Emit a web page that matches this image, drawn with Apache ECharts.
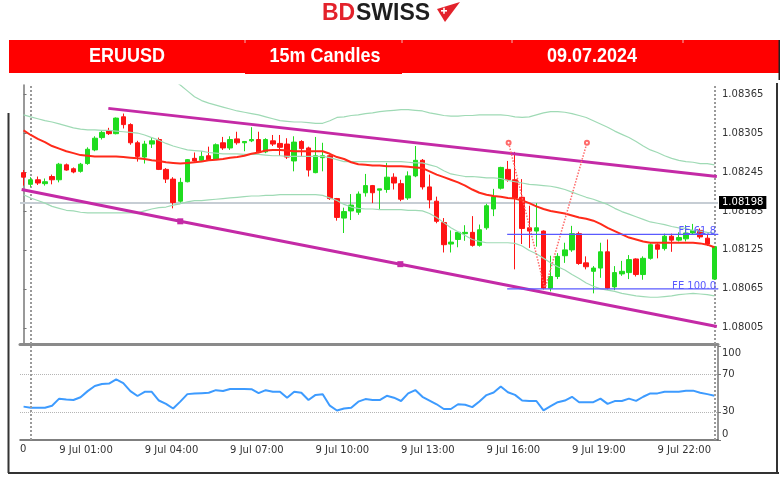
<!DOCTYPE html>
<html>
<head>
<meta charset="utf-8">
<title>ERUUSD 15m Candles</title>
<script src="https://cdn.jsdelivr.net/npm/echarts@6/dist/echarts.min.js"></script>
<style>
  html, body { margin: 0; padding: 0; background: #fff; }
  #chart { width: 780px; height: 478px; }
</style>
</head>
<body>
<div id="chart"></div>
<script>
// 15m candles, 8 Jul 23:45 -> 10 Jul 00:00
var times = [];
function pad(n) { return (n < 10 ? "0" : "") + n; }
times.push("8 Jul 23:45");
for (var h = 0; h < 24; h++) {
  for (var m = 0; m < 60; m += 15) times.push("9 Jul " + pad(h) + ":" + pad(m));
}
times.push("10 Jul 00:00");

var opens = [
  1.08244,1.08226,1.08233,1.08227,1.08238,1.08233,1.08256,1.08250,1.08246,1.08258,
  1.08279,1.08298,1.08308,1.08304,1.08330,1.08318,1.08290,1.08268,1.08288,1.08295,
  1.08249,1.08234,1.08200,1.08230,1.08266,1.08263,1.08270,1.08265,1.08290,1.08282,
  1.08296,1.08290,1.08293,1.08295,1.08276,1.08293,1.08289,1.08288,1.08262,1.08292,
  1.08282,1.08244,1.08267,1.08270,1.08204,1.08174,1.08185,1.08183,1.08213,1.08224,
  1.08217,1.08218,1.08237,1.08227,1.08205,1.08239,1.08263,1.08222,1.08200,1.08167,
  1.08134,1.08141,1.08150,1.08152,1.08132,1.08159,1.08188,1.08220,1.08249,1.08233,
  1.08206,1.08159,1.08154,1.08154,1.08066,1.08084,1.08116,1.08125,1.08150,1.08105,
  1.08092,1.08097,1.08122,1.08068,1.08088,1.08090,1.08111,1.08087,1.08112,1.08133,
  1.08127,1.08146,1.08140,1.08142,1.08151,1.08155,1.08143,1.08080
];
var closes = [
  1.08237,1.08233,1.08228,1.08230,1.08233,1.08257,1.08248,1.08245,1.08257,1.08280,
  1.08297,1.08306,1.08304,1.08328,1.08318,1.08290,1.08269,1.08288,1.08293,1.08249,
  1.08234,1.08198,1.08229,1.08264,1.08262,1.08269,1.08264,1.08287,1.08282,1.08295,
  1.08290,1.08292,1.08295,1.08276,1.08295,1.08288,1.08283,1.08268,1.08291,1.08281,
  1.08248,1.08270,1.08270,1.08204,1.08175,1.08184,1.08194,1.08211,1.08224,1.08213,
  1.08219,1.08237,1.08228,1.08203,1.08239,1.08263,1.08222,1.08202,1.08169,1.08133,
  1.08137,1.08152,1.08152,1.08132,1.08156,1.08193,1.08207,1.08252,1.08233,1.08205,
  1.08158,1.08154,1.08159,1.08066,1.08084,1.08115,1.08125,1.08150,1.08104,1.08099,
  1.08097,1.08122,1.08066,1.08090,1.08092,1.08110,1.08087,1.08112,1.08133,1.08126,
  1.08146,1.08140,1.08144,1.08151,1.08155,1.08145,1.08134,1.08130
];
var lows = [
  1.08224,1.08222,1.08225,1.08224,1.08226,1.08229,1.08247,1.08243,1.08244,1.08256,
  1.08277,1.08295,1.08302,1.08303,1.08312,1.08287,1.08261,1.08258,1.08282,1.08248,
  1.08228,1.08189,1.08198,1.08229,1.08261,1.08261,1.08263,1.08264,1.08279,1.08279,
  1.08287,1.08277,1.08291,1.08274,1.08274,1.08285,1.08270,1.08265,1.08246,1.08269,
  1.08238,1.08243,1.08246,1.08202,1.08170,1.08151,1.08171,1.08179,1.08207,1.08197,
  1.08188,1.08213,1.08218,1.08200,1.08202,1.08237,1.08218,1.08189,1.08166,1.08121,
  1.08121,1.08129,1.08139,1.08130,1.08130,1.08156,1.08177,1.08218,1.08230,1.08095,
  1.08134,1.08128,1.08130,1.08064,1.08061,1.08080,1.08105,1.08122,1.08102,1.08095,
  1.08058,1.08082,1.08064,1.08063,1.08085,1.08080,1.08084,1.08079,1.08110,1.08112,
  1.08124,1.08122,1.08138,1.08138,1.08149,1.08142,1.08131,1.08079
];
var highs = [
  1.08248,1.08237,1.08238,1.08235,1.08241,1.08259,1.08258,1.08252,1.08259,1.08283,
  1.08300,1.08308,1.08313,1.08329,1.08335,1.08320,1.08293,1.08293,1.08298,1.08298,
  1.08251,1.08237,1.08236,1.08265,1.08275,1.08277,1.08284,1.08289,1.08299,1.08300,
  1.08307,1.08292,1.08314,1.08307,1.08297,1.08302,1.08302,1.08297,1.08300,1.08294,
  1.08284,1.08299,1.08290,1.08272,1.08205,1.08190,1.08211,1.08215,1.08242,1.08225,
  1.08219,1.08259,1.08243,1.08233,1.08246,1.08285,1.08265,1.08241,1.08207,1.08174,
  1.08155,1.08153,1.08163,1.08177,1.08164,1.08196,1.08219,1.08253,1.08262,1.08276,
  1.08234,1.08193,1.08197,1.08155,1.08116,1.08120,1.08136,1.08162,1.08153,1.08115,
  1.08100,1.08136,1.08141,1.08100,1.08108,1.08117,1.08112,1.08115,1.08135,1.08135,
  1.08150,1.08150,1.08152,1.08163,1.08165,1.08158,1.08148,1.08131
];

// moving average (red) and the three green envelope lines
var maLine = [
  1.08309,1.08302,1.08296,1.08291,1.08285,1.08281,1.08277,1.08274,1.08271,1.08270,
  1.08269,1.08269,1.08269,1.08269,1.08268,1.08267,1.08266,1.08265,1.08263,1.08262,
  1.08260,1.08259,1.08258,1.08259,1.08260,1.08261,1.08263,1.08264,1.08265,1.08267,
  1.08268,1.08270,1.08273,1.08275,1.08278,1.08279,1.08279,1.08278,1.08277,1.08277,
  1.08277,1.08277,1.08277,1.08273,1.08268,1.08265,1.08260,1.08257,1.08256,1.08255,
  1.08255,1.08254,1.08254,1.08254,1.08253,1.08252,1.08251,1.08246,1.08241,1.08237,
  1.08233,1.08229,1.08224,1.08218,1.08213,1.08210,1.08208,1.08207,1.08205,1.08204,
  1.08201,1.08197,1.08192,1.08188,1.08185,1.08183,1.08181,1.08178,1.08175,1.08173,
  1.08170,1.08165,1.08159,1.08154,1.08149,1.08144,1.08141,1.08138,1.08136,1.08136,
  1.08136,1.08136,1.08136,1.08136,1.08136,1.08135,1.08133,1.08129
];
var bandOuter = [
  1.08421,1.08422,1.08424,1.08426,1.08426,1.08427,1.08427,1.08427,1.08427,1.08427,
  1.08427,1.08427,1.08426,1.08426,1.08424,1.08422,1.08421,1.08416,1.08410,1.08402,
  1.08395,1.08387,1.08379,1.08370,1.08361,1.08355,1.08351,1.08348,1.08345,1.08342,
  1.08339,1.08337,1.08335,1.08333,1.08330,1.08327,1.08324,1.08323,1.08322,1.08322,
  1.08321,1.08320,1.08320,1.08324,1.08329,1.08330,1.08332,1.08333,1.08335,1.08336,
  1.08338,1.08339,1.08340,1.08341,1.08341,1.08340,1.08339,1.08336,1.08334,1.08332,
  1.08331,1.08331,1.08332,1.08332,1.08333,1.08333,1.08333,1.08333,1.08332,1.08330,
  1.08329,1.08330,1.08333,1.08336,1.08338,1.08338,1.08337,1.08335,1.08332,1.08329,
  1.08324,1.08319,1.08314,1.08308,1.08303,1.08298,1.08292,1.08285,1.08279,1.08275,
  1.08270,1.08266,1.08263,1.08261,1.08260,1.08258,1.08258,1.08256
];
var bandUpper = [
  1.08333,1.08330,1.08327,1.08324,1.08322,1.08319,1.08316,1.08313,1.08311,1.08310,
  1.08310,1.08309,1.08309,1.08308,1.08307,1.08306,1.08305,1.08302,1.08298,1.08294,
  1.08289,1.08285,1.08282,1.08279,1.08278,1.08277,1.08275,1.08274,1.08273,1.08273,
  1.08273,1.08272,1.08272,1.08272,1.08271,1.08270,1.08270,1.08269,1.08269,1.08269,
  1.08269,1.08269,1.08269,1.08267,1.08264,1.08261,1.08261,1.08261,1.08261,1.08261,
  1.08261,1.08261,1.08261,1.08261,1.08260,1.08259,1.08259,1.08256,1.08253,1.08247,
  1.08242,1.08240,1.08238,1.08238,1.08237,1.08236,1.08236,1.08235,1.08232,1.08230,
  1.08228,1.08226,1.08225,1.08224,1.08223,1.08221,1.08218,1.08214,1.08210,1.08206,
  1.08203,1.08199,1.08195,1.08189,1.08184,1.08180,1.08176,1.08172,1.08168,1.08166,
  1.08164,1.08161,1.08159,1.08158,1.08155,1.08154,1.08152,1.08151
];
var bandLower = [
  1.08210,1.08205,1.08201,1.08197,1.08192,1.08189,1.08186,1.08185,1.08183,1.08182,
  1.08182,1.08182,1.08182,1.08182,1.08182,1.08182,1.08182,1.08185,1.08188,1.08190,
  1.08191,1.08194,1.08196,1.08199,1.08201,1.08201,1.08202,1.08203,1.08204,1.08205,
  1.08206,1.08207,1.08208,1.08208,1.08209,1.08209,1.08210,1.08210,1.08210,1.08210,
  1.08210,1.08210,1.08209,1.08205,1.08201,1.08195,1.08191,1.08189,1.08188,1.08188,
  1.08187,1.08187,1.08187,1.08187,1.08186,1.08186,1.08185,1.08181,1.08175,1.08167,
  1.08159,1.08153,1.08147,1.08141,1.08138,1.08136,1.08136,1.08136,1.08136,1.08135,
  1.08131,1.08124,1.08119,1.08112,1.08105,1.08099,1.08094,1.08087,1.08081,1.08074,
  1.08069,1.08065,1.08063,1.08061,1.08058,1.08056,1.08054,1.08053,1.08052,1.08052,
  1.08053,1.08054,1.08056,1.08057,1.08058,1.08057,1.08056,1.08054
];

var rsi = [
  35.5,34.4,34.4,34.4,36.5,44,43,42.5,45.5,52,
  57.5,59.6,60,64.5,60.5,52,46.8,51.2,51.2,42,
  38.5,33.5,40.8,48.8,49.4,49.8,50.2,53,52.2,54.3,
  54.3,54.3,54,49.8,53,51.4,51.4,45,51.4,50.2,
  42.5,48,48.6,36.5,31.4,33.5,34.4,40.8,43.5,42.5,
  42.5,47,45,41.5,49.6,53.1,46,42,38,33,
  33,38,37.5,35,41,47.8,50.5,57,50.8,48,
  42,41.5,41.5,31.5,36,40.2,42,46,40.2,40.1,
  40.2,44,38.4,41.4,41.5,44,41.6,46,49.6,49.6,
  51.4,51.4,51.4,52.3,52.5,50.3,48.8,47
];

// drawn objects: [bar index, price]
var channelTop = [[11.9, 1.08343], [97.34, 1.08238]];
var channelBottom = [[-0.27, 1.08218], [22, 1.08169], [52.9, 1.08103], [97.34, 1.08007]];
var feLegs = [[68.1, 1.08290], [73.2, 1.08065], [79.1, 1.08290]];
var feLevels = [["FE 61.8", 1.08149], ["FE 100.0", 1.08065]];
var feStart = 67.9, feEnd = 97.5;
var lastPrice = 1.08198;

var priceTicks = [1.08005, 1.08065, 1.08125, 1.08185, 1.08245, 1.08305, 1.08365];
var rsiTicks = [0, 30, 70, 100];
var rsiLevels = [30, 70];
var header = ["ERUUSD", "15m Candles", "09.07.2024"];

var candles = [];
for (var i = 0; i < opens.length; i++) {
  candles.push([opens[i], closes[i], lows[i], highs[i]]);
}

var labelFont = "DejaVu Sans";
function everyThreeHours(idx) { return idx >= 5 && (idx - 5) % 12 === 0; }
var dotted = { type: "dotted", color: "#9a9a9a", width: 2 };

var feSeries = feLevels.map(function (lv) {
  return {
    type: "line", xAxisIndex: 1, yAxisIndex: 0, z: 4,
    symbol: "none", showSymbol: true, silent: true,
    lineStyle: { color: "#5a5aff", width: 1.2 },
    itemStyle: { color: "#5a5aff" },
    data: [
      [feStart, lv[1]],
      { value: [feEnd, lv[1]], symbol: "circle", symbolSize: 1,
        label: { show: true, formatter: lv[0], position: "top", align: "right",
                 distance: 0, offset: [-2, 3], color: "#5a5aff", fontSize: 10, fontFamily: labelFont } }
    ]
  };
});

var chart = echarts.init(document.getElementById("chart"));
chart.setOption({
  animation: false,
  backgroundColor: "#ffffff",
  grid: [
    { left: 20, right: 62, top: 85, height: 259 },
    { left: 20, right: 62, top: 346, height: 94 }
  ],
  xAxis: [
    { type: "category", gridIndex: 0, data: times, boundaryGap: true,
      axisLine: { lineStyle: { color: "#8a8a8a", width: 3 } },
      axisTick: { show: false }, axisLabel: { show: false }, splitLine: { show: false } },
    { type: "value", gridIndex: 0, min: -0.5, max: 97.5, show: false },
    { type: "category", gridIndex: 1, data: times, boundaryGap: true,
      axisLine: { lineStyle: { color: "#555", width: 1.5 } },
      axisTick: { alignWithLabel: true, interval: everyThreeHours, length: 3, lineStyle: { color: "#555" } },
      axisLabel: { interval: everyThreeHours, align: "left", margin: 5,
                   color: "#333", fontSize: 10, fontFamily: labelFont },
      splitLine: { show: false } }
  ],
  yAxis: [
    { type: "value", gridIndex: 0, position: "right", min: 1.07980, max: 1.08379,
      splitLine: { show: false },
      axisLine: { show: true, lineStyle: { color: "#777", width: 1.5 } },
      axisTick: { show: true, customValues: priceTicks, length: 3, lineStyle: { color: "#777" } },
      axisLabel: { customValues: priceTicks, margin: 4, color: "#333", fontSize: 10, fontFamily: labelFont,
                   formatter: function (v) { return v.toFixed(5); } } },
    { type: "value", gridIndex: 1, position: "right", min: 0, max: 100,
      splitLine: { show: false },
      axisLine: { show: true, lineStyle: { color: "#777", width: 1.5 } },
      axisTick: { show: true, customValues: rsiTicks, length: 3, lineStyle: { color: "#777" } },
      axisLabel: { customValues: rsiTicks, margin: 4, color: "#333", fontSize: 10, fontFamily: labelFont,
                   formatter: function (v) {
                     if (v === 100) return "{t|100}";
                     if (v === 0) return "{b|0}";
                     return String(v);
                   },
                   rich: {
                     t: { padding: [14, 0, 0, 0], color: "#333", fontSize: 10, fontFamily: labelFont },
                     b: { padding: [0, 0, 12, 0], color: "#333", fontSize: 10, fontFamily: labelFont }
                   } } }
  ],
  series: [
    { type: "candlestick", xAxisIndex: 0, yAxisIndex: 0, z: 2, barWidth: 5,
      data: candles,
      itemStyle: { color: "#1fdc1f", color0: "#ff1414", borderColor: "#1fdc1f", borderColor0: "#ff1414", borderWidth: 1 },
      markLine: {
        silent: true, symbol: "none", precision: 6, label: { show: false }, z: 1,
        data: [
          { xAxis: times[1], lineStyle: dotted },
          { xAxis: times[97], lineStyle: dotted },
          { yAxis: lastPrice, lineStyle: { type: "solid", color: "#c6cdd4", width: 2 },
            label: { show: true, position: "end", distance: 1, formatter: lastPrice.toFixed(5),
                     backgroundColor: "#000", color: "#fff", padding: [2, 3, 1, 3],
                     fontSize: 10, fontFamily: labelFont } }
        ]
      } },
    { type: "line", xAxisIndex: 0, yAxisIndex: 0, z: 3, data: bandOuter, symbol: "none", silent: true,
      lineStyle: { color: "#9fdab5", width: 1.2 } },
    { type: "line", xAxisIndex: 0, yAxisIndex: 0, z: 3, data: bandUpper, symbol: "none", silent: true,
      lineStyle: { color: "#9fdab5", width: 1.2 } },
    { type: "line", xAxisIndex: 0, yAxisIndex: 0, z: 3, data: bandLower, symbol: "none", silent: true,
      lineStyle: { color: "#9fdab5", width: 1.2 } },
    { type: "line", xAxisIndex: 0, yAxisIndex: 0, z: 3, data: maLine, symbol: "none", silent: true,
      lineStyle: { color: "#ff2a1a", width: 2 } },
    { type: "line", xAxisIndex: 1, yAxisIndex: 0, z: 4, data: channelTop, symbol: "none", silent: true,
      lineStyle: { color: "#c42aa6", width: 3 } },
    { type: "line", xAxisIndex: 1, yAxisIndex: 0, z: 4, silent: true,
      symbol: "none", showSymbol: true,
      data: channelBottom.map(function (p, k) {
        if (k === 0 || k === channelBottom.length - 1) return p;
        return { value: p, symbol: "rect", symbolSize: 6 };
      }),
      itemStyle: { color: "#c42aa6" },
      lineStyle: { color: "#c42aa6", width: 3 } },
    { type: "line", xAxisIndex: 1, yAxisIndex: 0, z: 4, silent: true,
      symbol: "none", showSymbol: true,
      data: feLegs.map(function (p, k) {
        if (k === 1) return p;
        return { value: p, symbol: "emptyCircle", symbolSize: 4 };
      }),
      itemStyle: { color: "#ff6a6a" },
      lineStyle: { color: "#ff6a6a", width: 1.5, type: "dotted" } }
  ].concat(feSeries).concat([
    { type: "line", xAxisIndex: 2, yAxisIndex: 1, data: rsi, symbol: "none", silent: true,
      lineStyle: { color: "#3d9bff", width: 2 },
      markLine: {
        silent: true, symbol: "none", label: { show: false },
        data: [
          { yAxis: rsiLevels[0], lineStyle: { type: "dotted", color: "#b5b5b5", width: 1 } },
          { yAxis: rsiLevels[1], lineStyle: { type: "dotted", color: "#b5b5b5", width: 1 } },
          { xAxis: times[1], lineStyle: dotted },
          { xAxis: times[97], lineStyle: dotted }
        ]
      } }
  ]),
  graphic: [
    // logo
    { type: "text", x: 322, y: 14, style: { text: "BD", fill: "#e3222b", font: "bold 23px 'Liberation Sans', Arial",
      align: "left", textAlign: "left", verticalAlign: "middle", textVerticalAlign: "middle" } },
    { type: "text", x: 356, y: 14, style: { text: "SWISS", fill: "#1e1e1e", font: "bold 23px 'Liberation Sans', Arial",
      align: "left", textAlign: "left", verticalAlign: "middle", textVerticalAlign: "middle" } },
    { type: "polygon", shape: { points: [[437, 9], [460, 2], [445, 22]] }, style: { fill: "#e3222b" } },
    { type: "rect", shape: { x: 441, y: 10, width: 6, height: 1.6 }, style: { fill: "#fff" } },
    { type: "rect", shape: { x: 443.2, y: 7.8, width: 1.6, height: 6 }, style: { fill: "#fff" } },
    // header banner
    { type: "rect", shape: { x: 9, y: 40, width: 770, height: 33 }, style: { fill: "#ff0000" } },
    { type: "rect", shape: { x: 245, y: 40, width: 157, height: 34 }, style: { fill: "#ff0000" } },
    { type: "line", shape: { x1: 245, y1: 40, x2: 245, y2: 43 }, style: { stroke: "#f2b5b5", lineWidth: 1 } },
    { type: "line", shape: { x1: 402, y1: 40, x2: 402, y2: 43 }, style: { stroke: "#f2b5b5", lineWidth: 1 } },
    { type: "line", shape: { x1: 512, y1: 40, x2: 512, y2: 43 }, style: { stroke: "#f2b5b5", lineWidth: 1 } },
    { type: "line", shape: { x1: 683, y1: 40, x2: 683, y2: 43 }, style: { stroke: "#f2b5b5", lineWidth: 1 } },
    { type: "line", shape: { x1: 779.5, y1: 40, x2: 779.5, y2: 80 }, style: { stroke: "#222", lineWidth: 2 } },
    { type: "text", x: 127, y: 57, scaleY: 1.1, style: { text: header[0], fill: "#fff", font: "bold 18px 'Liberation Sans', Arial",
      align: "center", textAlign: "center", verticalAlign: "middle", textVerticalAlign: "middle" } },
    { type: "text", x: 325, y: 57, scaleY: 1.1, style: { text: header[1], fill: "#fff", font: "bold 18px 'Liberation Sans', Arial",
      align: "center", textAlign: "center", verticalAlign: "middle", textVerticalAlign: "middle" } },
    { type: "text", x: 592, y: 57, scaleY: 1.1, style: { text: header[2], fill: "#fff", font: "bold 18px 'Liberation Sans', Arial",
      align: "center", textAlign: "center", verticalAlign: "middle", textVerticalAlign: "middle" } },
    // frame of the picture
    { type: "line", shape: { x1: 8.5, y1: 113, x2: 8.5, y2: 473 }, style: { stroke: "#333", lineWidth: 2 } },
    { type: "line", shape: { x1: 8, y1: 473, x2: 779, y2: 473 }, style: { stroke: "#333", lineWidth: 2 } },
    { type: "line", shape: { x1: 777, y1: 83, x2: 777, y2: 473 }, style: { stroke: "#333", lineWidth: 2 } },
    // cut-off first time label
    { type: "text", x: 20, y: 449, style: { text: "0", fill: "#333", font: "10px 'DejaVu Sans'",
      align: "left", textAlign: "left", verticalAlign: "middle", textVerticalAlign: "middle" } }
  ]
});
</script>
</body>
</html>
